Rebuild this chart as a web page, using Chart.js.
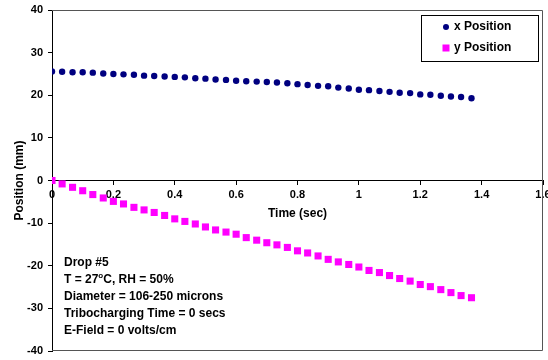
<!DOCTYPE html>
<html>
<head>
<meta charset="utf-8">
<script src="https://cdn.jsdelivr.net/npm/chart.js@4/dist/chart.umd.min.js"></script>
<style>
  body { margin: 0; background: #fff; }
  #wrap { width: 548px; height: 360px; position: relative; }
</style>
</head>
<body>
<div id="wrap"><canvas id="myChart"></canvas></div>
<script>
// time in seconds, one frame every 1/30 s
let times = [0, 0.033, 0.067, 0.1, 0.133, 0.167, 0.2, 0.233, 0.267, 0.3, 0.333, 0.367, 0.4, 0.433,
  0.467, 0.5, 0.533, 0.567, 0.6, 0.633, 0.667, 0.7, 0.733, 0.767, 0.8, 0.833, 0.867, 0.9, 0.933,
  0.967, 1, 1.033, 1.067, 1.1, 1.133, 1.167, 1.2, 1.233, 1.267, 1.3, 1.333, 1.367];
let xPosition = [25.6, 25.5, 25.4, 25.4, 25.3, 25.1, 25.0, 24.9, 24.8, 24.6, 24.5, 24.4, 24.3, 24.2,
  24.0, 23.9, 23.7, 23.6, 23.4, 23.3, 23.2, 23.1, 23.0, 22.8, 22.6, 22.4, 22.2, 22.1, 21.8,
  21.6, 21.3, 21.2, 21.0, 20.8, 20.6, 20.5, 20.2, 20.1, 19.9, 19.7, 19.6, 19.3];
let yPosition = [0, -0.8, -1.6, -2.4, -3.3, -4.1, -4.9, -5.5, -6.3, -6.9, -7.5, -8.2, -9.0, -9.6,
  -10.2, -10.9, -11.6, -12.1, -12.6, -13.4, -14.0, -14.6, -15.1, -15.7, -16.5, -17.0, -17.7, -18.5, -19.1,
  -19.7, -20.3, -21.1, -21.6, -22.3, -23.0, -23.6, -24.4, -24.9, -25.6, -26.3, -27.0, -27.5];
let seriesNames = ['x Position', 'y Position'];
let notes = ['Drop #5', 'T = 27|o|C, RH = 50%', 'Diameter = 106-250 microns',
  'Tribocharging Time = 0 secs', 'E-Field = 0 volts/cm'];

let navy = '#000080';
let magenta = '#FF00FF';
let boldFont = 'bold 12px "Liberation Sans", Arial, sans-serif';

let toPoints = (arr) => arr.map((v, i) => ({ x: times[i], y: v }));
let cleanNum = (v) => String(parseFloat(Number(v).toFixed(2)));

// frame, legend and text block
let extras = {
  id: 'extras',
  afterDraw(chart) {
    let ctx = chart.ctx;
    let area = chart.chartArea;
    ctx.save();
    ctx.strokeStyle = '#555';
    ctx.lineWidth = 1;
    ctx.beginPath();
    ctx.moveTo(area.left, area.top + 0.5);
    ctx.lineTo(area.right - 0.5, area.top + 0.5);
    ctx.lineTo(area.right - 0.5, area.bottom - 0.5);
    ctx.lineTo(area.left, area.bottom - 0.5);
    ctx.stroke();

    // legend box
    let lx = area.right - 122, ly = area.top + 5, lw = 117, lh = 46;
    ctx.fillStyle = '#fff';
    ctx.fillRect(lx, ly, lw, lh);
    ctx.strokeStyle = '#000';
    ctx.strokeRect(lx + 0.5, ly + 0.5, lw, lh);
    ctx.font = boldFont;
    ctx.textBaseline = 'middle';
    ctx.textAlign = 'left';
    let rows = [ly + 12, ly + 33];
    ctx.fillStyle = navy;
    ctx.beginPath();
    ctx.arc(lx + 25, rows[0], 3, 0, Math.PI * 2);
    ctx.fill();
    ctx.fillStyle = magenta;
    ctx.fillRect(lx + 21.5, rows[1] - 3.5, 7, 7);
    ctx.fillStyle = '#000';
    ctx.fillText(seriesNames[0], lx + 33, rows[0]);
    ctx.fillText(seriesNames[1], lx + 33, rows[1]);

    // notes block
    let tx = area.left + 12;
    let ty = 263;
    notes.forEach((line, i) => {
      let y = ty + i * 17;
      let parts = line.split('|');
      let x = tx;
      parts.forEach((p, j) => {
        if (j === 1) {
          ctx.font = 'bold 8px "Liberation Sans", Arial, sans-serif';
          ctx.fillText(p, x, y - 4);
        } else {
          ctx.font = boldFont;
          ctx.fillText(p, x, y);
        }
        x += ctx.measureText(p).width;
      });
    });
    ctx.restore();
  }
};

let ctx = document.getElementById('myChart');
let myChart = new Chart(ctx, {
  type: 'scatter',
  data: {
    datasets: [
      {
        label: seriesNames[0],
        data: toPoints(xPosition),
        pointStyle: 'circle',
        pointRadius: 3.2,
        backgroundColor: navy,
        borderColor: navy,
        borderWidth: 0
      },
      {
        label: seriesNames[1],
        data: toPoints(yPosition),
        pointStyle: 'rect',
        pointRadius: 5,
        backgroundColor: magenta,
        borderColor: magenta,
        borderWidth: 0
      }
    ]
  },
  options: {
    responsive: true,
    maintainAspectRatio: false,
    animation: false,
    layout: { padding: { top: 10, right: 4, left: 0, bottom: 9 } },
    plugins: {
      legend: { display: false },
      tooltip: { enabled: false }
    },
    scales: {
      x: {
        type: 'linear',
        position: { y: 0 },
        min: 0,
        max: 1.6,
        ticks: {
          stepSize: 0.2,
          color: '#000',
          padding: 4,
          maxRotation: 0,
          font: { family: '"Liberation Sans", Arial, sans-serif', size: 11, weight: 'bold' },
          callback: (v) => cleanNum(v)
        },
        grid: { drawOnChartArea: false, drawTicks: true, tickLength: 4, color: '#000' },
        border: { color: '#000', width: 1 },
        title: {
          display: true,
          text: 'Time (sec)',
          color: '#000',
          padding: { top: 1, bottom: 0 },
          font: { family: '"Liberation Sans", Arial, sans-serif', size: 12, weight: 'bold' }
        },
        afterFit: (s) => { s.paddingLeft = 0; s.paddingRight = 0; s.paddingTop = 0; s.paddingBottom = 0; }
      },
      y: {
        min: -40,
        max: 40,
        ticks: {
          stepSize: 10,
          color: '#000',
          padding: 5,
          font: { family: '"Liberation Sans", Arial, sans-serif', size: 11, weight: 'bold' },
          callback: (v) => cleanNum(v)
        },
        grid: { drawOnChartArea: false, drawTicks: true, tickLength: 4, color: '#000' },
        border: { color: '#000', width: 1 },
        title: {
          display: true,
          text: 'Position (mm)',
          color: '#000',
          padding: { top: 12, bottom: 0 },
          font: { family: '"Liberation Sans", Arial, sans-serif', size: 12, weight: 'bold' }
        },
        afterFit: (s) => { s.width = 52; s.paddingTop = 0; s.paddingBottom = 0; }
      }
    }
  },
  plugins: [extras]
});
</script>
</body>
</html>
